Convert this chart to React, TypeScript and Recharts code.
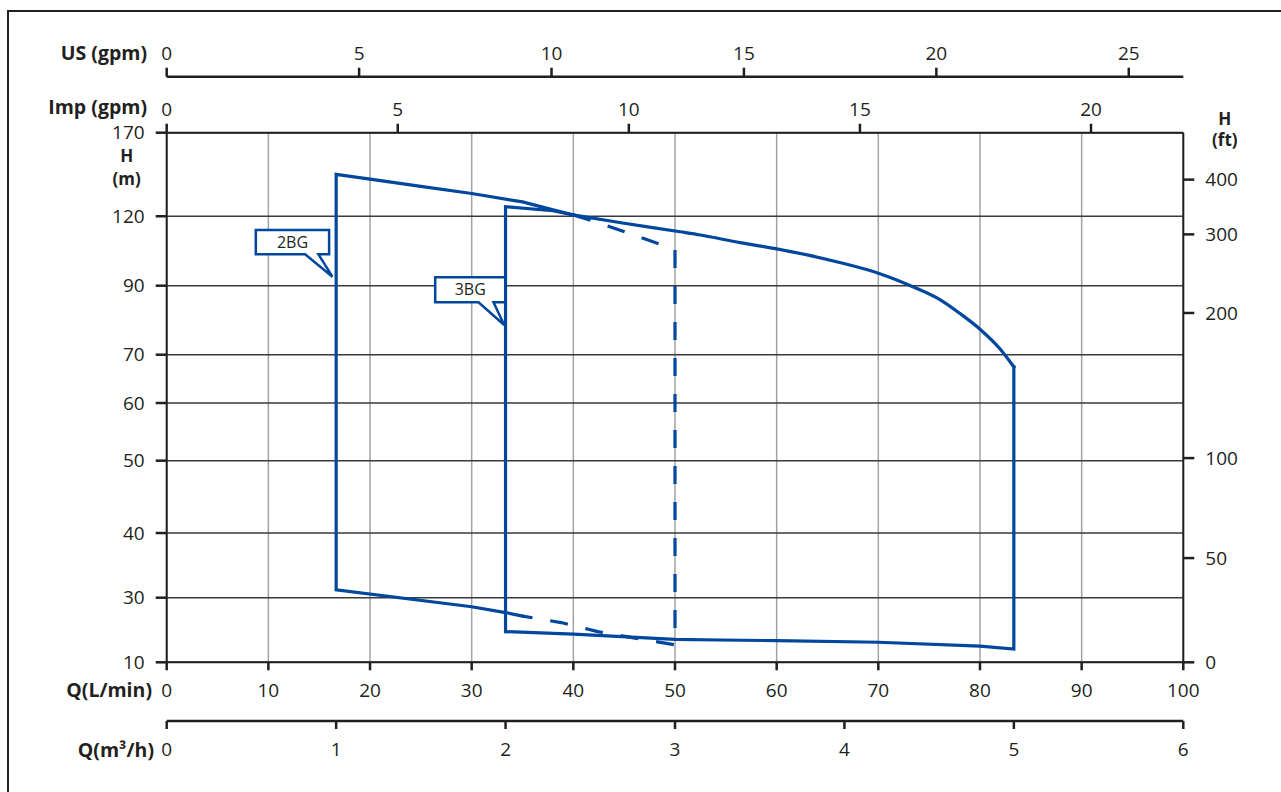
import React from 'react';
import { LineChart, Line, XAxis, YAxis, CartesianGrid, ReferenceDot } from 'recharts';

// ---- axis tick values ----
const Q_LMIN_TICKS = [0, 10, 20, 30, 40, 50, 60, 70, 80, 90, 100];
const Q_M3H_TICKS = [0, 1, 2, 3, 4, 5, 6];
const US_GPM_TICKS = [0, 5, 10, 15, 20, 25];
const IMP_GPM_TICKS = [0, 5, 10, 15, 20];
const H_M_TICKS = [10, 30, 40, 50, 60, 70, 90, 120, 170];
const H_FT_TICKS = [0, 50, 100, 200, 300, 400];
// the chart's own non-uniform head scales (fraction of plot height at each tick)
const H_M_TICK_POS = [0, 0.122, 0.2441, 0.3807, 0.4896, 0.5808, 0.7111, 0.8422, 1];
const H_FT_TICK_POS = [0, 0.1968, 0.3856, 0.6596, 0.808, 0.9114];

const LMIN_PER_US_GPM = 3.78541;
const LMIN_PER_IMP_GPM = 4.54609;
const LMIN_PER_M3H = 1000 / 60;

// ---- series (Q in L/min, H in m) ----
const BG2_SOLID_Q = [35, 33.33, 30, 16.67, 16.67, 20, 25, 30, 35, 38, 40];
const BG2_SOLID_H = [24.3, 25.4, 27.2, 31.2, 145.1, 142.2, 137.9, 133.6, 128.6, 123.8, 120.8];
const BG2_DASH_Q = [40, 42.6, 46.2, 50, 50, 46.2, 42.4, 38.8, 35];
const BG2_DASH_H = [120.8, 117.0, 111.5, 105.7, 15.4, 17.4, 19.5, 22.3, 24.3];
// 3BG: left edge, bottom edge and right edge
const BG3_EDGE_Q = [40, 38, 33.33, 33.33, 40, 50, 54.4, 60, 70, 80, 83.33, 83.33];
const BG3_EDGE_H = [120.8, 123.3, 125.7, 19.5, 18.7, 17.1, 16.9, 16.7, 16.2, 15.0, 14.1, 67.5];
// 3BG: top (maximum head) curve
const BG3_TOP_Q = [40, 45, 50.5, 52.5, 56.4, 60, 63.0, 66.3, 70, 73.4, 76.1, 78.0, 80, 82.0, 83.33];
const BG3_TOP_H = [120.8, 117.0, 113.3, 111.9, 108.6, 105.9, 103.3, 99.9, 95.4, 89.7, 85.9, 82.0, 77.4, 71.6, 67.5];

const CALLOUT_LABELS = ['2BG', '3BG'];
const CALLOUT_Q = [16.3, 33.2];
const CALLOUT_H = [93.9, 78.6];

const BLUE = '#00479d';
const INK = '#231f20';
const FONT = '"Open Sans", "DejaVu Sans", sans-serif';

function interp(v: number, xs: number[], ys: number[]) {
  for (let i = 0; i < xs.length - 1; i++) {
    if (v <= xs[i + 1] || i === xs.length - 2) {
      const t = (v - xs[i]) / (xs[i + 1] - xs[i]);
      return ys[i] + t * (ys[i + 1] - ys[i]);
    }
  }
  return ys[0];
}
const toU = (h: number) => interp(h, H_M_TICKS, H_M_TICK_POS);
const build = (qs: number[], hs: number[], perUnit = 1) =>
  qs.map((q, i) => ({ q: q / perUnit, u: toU(hs[i]) }));

const bg2Solid = build(BG2_SOLID_Q, BG2_SOLID_H);
const bg2Dash = build(BG2_DASH_Q, BG2_DASH_H);
const bg3Edge = build(BG3_EDGE_Q, BG3_EDGE_H);
const bg3Top = build(BG3_TOP_Q, BG3_TOP_H);
// the same 3BG curve expressed in the other flow units (carries the secondary axes)
const bg3Us = build(BG3_TOP_Q, BG3_TOP_H, LMIN_PER_US_GPM);
const bg3Imp = build(BG3_TOP_Q, BG3_TOP_H, LMIN_PER_IMP_GPM);
const bg3M3h = build(BG3_TOP_Q, BG3_TOP_H, LMIN_PER_M3H);

const tickStyle = { fill: INK, fontSize: 19, fontFamily: FONT };
const tickLine = { stroke: INK, strokeWidth: 2.5 };
const axisLine = { stroke: INK, strokeWidth: 2 };

const titleStyle: any = { fill: INK, fontFamily: FONT, fontWeight: 700 };

const xTitle = (text: string, dx: number, dy: number) => (props: any) => {
  const vb = props.viewBox || {};
  return (
    <text x={vb.x + dx} y={vb.y + dy} textAnchor="end" fontSize={19.5} style={titleStyle}>
      {text}
    </text>
  );
};

const yTitle = (lines: string[], dx: number, dys: number[]) => (props: any) => {
  const vb = props.viewBox || {};
  return (
    <g>
      {lines.map((l, i) => (
        <text key={i} x={vb.x + dx} y={vb.y + dys[i]} textAnchor="middle" fontSize={17} style={titleStyle}>
          {l}
        </text>
      ))}
    </g>
  );
};

const CALLOUT_GEOM = [
  { l: -76.6, r: -3.3, t: -46.7, b: -22.4, p1: -27.3, p2: -14 },
  { l: -69, r: 1, t: -47.7, b: -22.7, p1: -25.7, p2: -10.7 },
];

const makeCallout = (idx: number) => (props: any) => {
  const { cx, cy } = props;
  if (cx == null || cy == null) return <g />;
  const g = CALLOUT_GEOM[idx];
  const pts = [
    [cx + g.l, cy + g.t],
    [cx + g.r, cy + g.t],
    [cx + g.r, cy + g.b],
    [cx + g.p2, cy + g.b],
    [cx, cy],
    [cx + g.p1, cy + g.b],
    [cx + g.l, cy + g.b],
  ]
    .map((p) => p.join(','))
    .join(' ');
  return (
    <g>
      <polygon points={pts} fill="#fff" stroke={BLUE} strokeWidth={2.5} strokeLinejoin="miter" />
      <text
        x={cx + (g.l + g.r) / 2}
        y={cy + (g.t + g.b) / 2 + 5.5}
        textAnchor="middle"
        fontSize={16}
        fontFamily={FONT}
        fill={INK}
      >
        {CALLOUT_LABELS[idx]}
      </text>
    </g>
  );
};

const hiddenLine = (axisId: string, data: any[]) => (
  <Line
    key={axisId}
    xAxisId={axisId}
    yAxisId="m"
    data={data}
    dataKey="u"
    type="linear"
    stroke="none"
    strokeWidth={0}
    dot={false}
    activeDot={false}
    legendType="none"
    isAnimationActive={false}
  />
);

const curveProps: any = {
  xAxisId: 'lmin',
  yAxisId: 'm',
  dataKey: 'u',
  stroke: BLUE,
  strokeWidth: 3.2,
  strokeLinejoin: 'miter',
  dot: false,
  activeDot: false,
  isAnimationActive: false,
};

export default function App() {
  return (
    <div
      style={{
        position: 'absolute',
        left: 0,
        top: 0,
        width: 1281,
        height: 792,
        background: '#fff',
        overflow: 'hidden',
      }}
    >
      <div
        style={{
          position: 'absolute',
          left: 7,
          top: 10,
          width: 1400,
          height: 900,
          borderLeft: `2px solid ${INK}`,
          borderTop: `2px solid ${INK}`,
        }}
      />
      <div style={{ position: 'absolute', left: 0, top: 0 }}>
        <LineChart width={1281} height={792} margin={{ top: 36.7, right: 37.7, bottom: 31, left: 66.7 }}>
          <CartesianGrid xAxisId="lmin" yAxisId="m" horizontal={false} stroke="#a3a3a3" strokeWidth={1.5} fill="none" />
          <CartesianGrid xAxisId="lmin" yAxisId="m" vertical={false} stroke="#3a3a3a" strokeWidth={1.5} fill="none" />

          <XAxis
            xAxisId="imp"
            dataKey="q"
            orientation="top"
            type="number"
            domain={[0, 100 / LMIN_PER_IMP_GPM]}
            ticks={IMP_GPM_TICKS}
            allowDataOverflow
            height={56}
            tickSize={9}
            tickMargin={8}
            tick={tickStyle}
            tickLine={tickLine}
            axisLine={axisLine}
            interval={0}
            label={{ content: xTitle('Imp (gpm)', -19.7, 37.5) }}
          />
          <XAxis
            xAxisId="us"
            dataKey="q"
            orientation="top"
            type="number"
            domain={[0, 100 / LMIN_PER_US_GPM]}
            ticks={US_GPM_TICKS}
            allowDataOverflow
            height={40}
            tickSize={9}
            tickMargin={8}
            tick={tickStyle}
            tickLine={tickLine}
            axisLine={{ stroke: INK, strokeWidth: 2.5 }}
            interval={0}
            label={{ content: xTitle('US (gpm)', -19.7, 23.3) }}
          />
          <XAxis
            xAxisId="lmin"
            dataKey="q"
            orientation="bottom"
            type="number"
            domain={[0, 100]}
            ticks={Q_LMIN_TICKS}
            allowDataOverflow
            height={58.7}
            tickSize={8}
            tickMargin={13}
            tick={tickStyle}
            tickLine={tickLine}
            axisLine={axisLine}
            interval={0}
            label={{ content: xTitle('Q(L/min)', -14.7, 34.7) }}
          />
          <XAxis
            xAxisId="m3h"
            dataKey="q"
            orientation="bottom"
            type="number"
            domain={[0, 100 / LMIN_PER_M3H]}
            ticks={Q_M3H_TICKS}
            allowDataOverflow
            height={40}
            tickSize={8}
            tickMargin={13.5}
            tick={tickStyle}
            tickLine={tickLine}
            axisLine={{ stroke: INK, strokeWidth: 2.5 }}
            interval={0}
            label={{ content: xTitle('Q(m³/h)', -12.7, 36) }}
          />
          <YAxis
            yAxisId="m"
            orientation="left"
            type="number"
            domain={[0, 1]}
            ticks={H_M_TICK_POS}
            allowDataOverflow
            width={100}
            tickSize={11}
            tickMargin={11}
            tick={tickStyle}
            tickLine={tickLine}
            axisLine={axisLine}
            interval={0}
            tickFormatter={(v: number) => {
              const i = H_M_TICK_POS.indexOf(v);
              return i >= 0 ? String(H_M_TICKS[i]) : '';
            }}
            label={{ content: yTitle(['H', '(m)'], 60, [29.6, 52.5]) }}
          />
          <YAxis
            yAxisId="ft"
            orientation="right"
            type="number"
            domain={[0, 1]}
            ticks={H_FT_TICK_POS}
            allowDataOverflow
            width={60}
            tickSize={11}
            tickMargin={11}
            tick={tickStyle}
            tickLine={tickLine}
            axisLine={axisLine}
            interval={0}
            tickFormatter={(v: number) => {
              const i = H_FT_TICK_POS.indexOf(v);
              return i >= 0 ? String(H_FT_TICKS[i]) : '';
            }}
            label={{ content: yTitle(['H', '(ft)'], 41.5, [-7.7, 13.3]) }}
          />

          {hiddenLine('imp', bg3Imp)}
          {hiddenLine('us', bg3Us)}
          {hiddenLine('m3h', bg3M3h)}

          <Line {...curveProps} data={bg2Solid} type="linear" strokeLinecap="square" />
          <Line {...curveProps} data={bg2Dash} type="linear" strokeDasharray="18 18" />
          <Line {...curveProps} data={bg3Edge} type="linear" strokeLinecap="square" />
          <Line {...curveProps} data={bg3Top} type="monotone" strokeLinecap="square" />

          {CALLOUT_LABELS.map((lab, i) => (
            <ReferenceDot
              key={lab}
              xAxisId="lmin"
              yAxisId="m"
              x={CALLOUT_Q[i]}
              y={toU(CALLOUT_H[i])}
              r={0}
              shape={makeCallout(i)}
              ifOverflow="visible"
            />
          ))}
        </LineChart>
      </div>
    </div>
  );
}
